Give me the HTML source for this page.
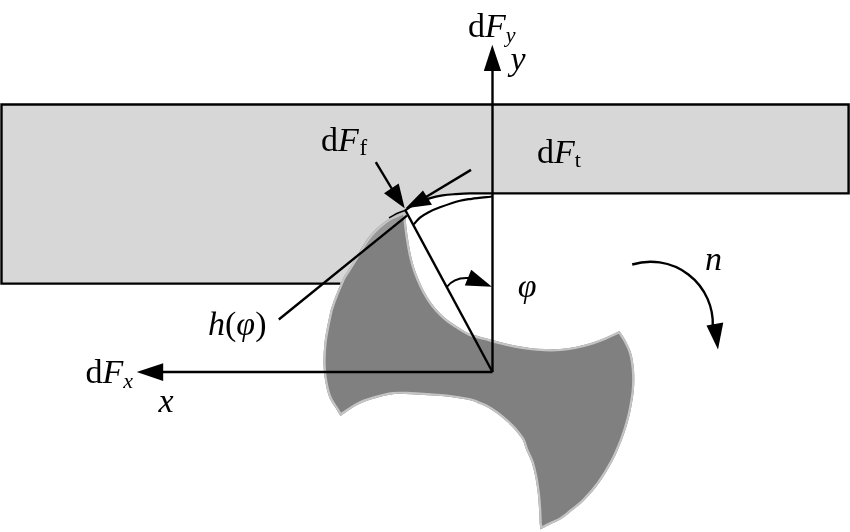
<!DOCTYPE html>
<html><head><meta charset="utf-8"><style>
html,body{margin:0;padding:0;background:#fff;width:850px;height:532px;overflow:hidden}
svg{display:block;will-change:transform}
text{font-family:"Liberation Serif",serif;fill:#000}
.i{font-style:italic}
</style></head><body>
<svg width="850" height="532" viewBox="0 0 850 532">
<rect x="0" y="0" width="850" height="532" fill="#fff"/>
<path d="M1.5 104.5 L848.6 104.5 L848.6 193.4 L492.5 193.4  C488.8 193.4 476.2 193.2 470.0 193.3 C463.8 193.4 459.6 193.8 455.0 194.2 C450.4 194.5 446.8 194.7 442.5 195.4 C438.2 196.1 433.8 197.1 429.5 198.4 C425.2 199.7 421.1 201.0 417.0 203.0 C412.9 205.0 407.0 209.2 405.0 210.5 C404.2 211.4 403.0 212.3 400.5 213.5 C398.0 214.7 393.5 216.1 390.0 218.2 C386.5 220.3 382.8 223.2 379.5 226.0 C376.2 228.8 372.9 232.2 370.3 235.3 C367.7 238.4 365.7 241.4 363.7 244.5 C361.7 247.6 359.9 251.1 358.4 253.7 C356.9 256.3 356.1 257.4 354.5 260.0 C352.9 262.6 350.8 266.0 348.9 269.0 C347.0 272.0 344.6 275.6 343.2 278.0 C341.8 280.4 340.9 282.7 340.4 283.6 L1.5 283.6 Z" fill="#d7d7d7"/>
<path d="M340.4 283.6 L1.5 283.6 L1.5 104.5 L848.6 104.5 L848.6 193.4 L492.5 193.4" fill="none" stroke="#000" stroke-width="2.4" stroke-linejoin="miter"/>
<clipPath id="tc"><path d="M405.0 211.0 C405.1 211.5 405.1 211.5 405.3 214.1 C405.5 216.7 405.9 222.0 406.4 226.5 C406.9 231.0 407.5 235.8 408.4 241.0 C409.2 246.2 410.3 252.3 411.5 257.5 C412.7 262.7 414.0 267.2 415.7 272.0 C417.4 276.8 419.3 281.4 421.5 286.0 C423.7 290.6 426.3 295.4 429.0 299.5 C431.7 303.6 434.5 307.2 437.5 310.5 C440.5 313.8 443.6 316.8 447.0 319.5 C450.4 322.2 454.2 324.6 458.0 327.0 C461.8 329.4 465.0 331.8 469.5 333.6 C474.0 335.4 479.9 336.6 485.0 338.0 C490.1 339.4 495.0 340.9 500.0 342.1 C505.0 343.4 510.0 344.5 515.0 345.5 C520.0 346.5 525.0 347.3 530.0 347.9 C535.0 348.5 540.0 348.9 545.0 349.1 C550.0 349.3 555.0 349.3 560.0 348.9 C565.0 348.5 570.0 347.8 575.0 346.9 C580.0 345.9 585.0 344.7 590.0 343.2 C595.0 341.7 600.1 339.7 605.0 337.7 C609.9 335.7 617.2 332.1 619.6 331.0 C620.6 332.6 623.7 336.9 625.5 340.3 C627.3 343.7 629.3 347.6 630.6 351.3 C631.9 355.0 632.5 358.2 633.1 362.3 C633.7 366.4 634.2 371.0 634.3 375.8 C634.4 380.6 634.3 386.0 633.8 391.0 C633.3 396.0 632.4 401.2 631.5 406.0 C630.6 410.8 630.0 414.1 628.5 419.6 C627.0 425.1 624.9 432.2 622.3 439.1 C619.6 446.0 616.5 453.8 612.6 461.1 C608.7 468.4 603.8 476.6 599.1 483.1 C594.4 489.6 589.3 495.3 584.4 500.2 C579.5 505.1 573.9 509.2 569.8 512.5 C565.7 515.8 563.3 517.8 560.0 519.8 C556.7 521.8 553.2 522.9 550.0 524.5 C546.8 526.1 542.1 528.7 540.5 529.5 C540.4 528.3 539.9 525.9 539.6 522.4 C539.4 518.9 539.3 513.5 539.0 508.6 C538.7 503.7 538.3 498.2 537.7 493.1 C537.1 488.0 536.4 482.8 535.4 477.7 C534.4 472.6 533.1 466.9 531.6 462.3 C530.1 457.7 527.7 453.7 526.2 450.0 C524.7 446.3 524.5 443.4 522.6 440.0 C520.7 436.6 517.3 432.6 514.7 429.5 C512.1 426.4 509.9 424.4 506.8 421.6 C503.7 418.9 499.8 415.5 496.3 413.0 C492.8 410.5 488.9 408.0 485.8 406.4 C482.7 404.8 480.5 404.2 477.9 403.2 C475.3 402.2 475.2 401.4 470.0 400.3 C464.8 399.2 453.5 397.4 446.5 396.6 C439.5 395.8 434.2 395.7 428.2 395.3 C422.2 394.9 416.5 394.4 410.6 394.2 C404.7 394.0 398.9 393.5 393.0 394.2 C387.1 394.9 381.2 396.4 375.3 398.2 C369.4 399.9 363.4 401.7 357.6 404.7 C351.8 407.7 343.3 414.1 340.4 416.0 C339.7 414.9 338.4 412.7 336.4 409.2 C334.4 405.7 330.5 401.7 328.4 395.0 C326.3 388.3 324.3 377.7 323.7 369.0 C323.1 360.3 323.5 351.7 324.5 342.6 C325.5 333.5 328.3 320.8 329.7 314.2 C331.1 307.6 331.9 306.3 333.0 302.9 C334.1 299.5 335.3 296.7 336.4 293.9 C337.5 291.1 338.7 288.6 339.8 286.0 C340.9 283.4 341.7 280.8 343.2 278.0 C344.7 275.2 347.0 272.0 348.9 269.0 C350.8 266.0 352.9 262.6 354.5 260.0 C356.1 257.4 356.9 256.3 358.4 253.7 C359.9 251.1 361.7 247.6 363.7 244.5 C365.7 241.4 367.7 238.4 370.3 235.3 C372.9 232.2 376.2 228.8 379.5 226.0 C382.8 223.2 386.5 220.3 390.0 218.2 C393.5 216.1 398.0 214.7 400.5 213.5 C403.0 212.3 404.2 211.4 405.0 211.0 Z"/></clipPath>
<path d="M405.0 211.0 C405.1 211.5 405.1 211.5 405.3 214.1 C405.5 216.7 405.9 222.0 406.4 226.5 C406.9 231.0 407.5 235.8 408.4 241.0 C409.2 246.2 410.3 252.3 411.5 257.5 C412.7 262.7 414.0 267.2 415.7 272.0 C417.4 276.8 419.3 281.4 421.5 286.0 C423.7 290.6 426.3 295.4 429.0 299.5 C431.7 303.6 434.5 307.2 437.5 310.5 C440.5 313.8 443.6 316.8 447.0 319.5 C450.4 322.2 454.2 324.6 458.0 327.0 C461.8 329.4 465.0 331.8 469.5 333.6 C474.0 335.4 479.9 336.6 485.0 338.0 C490.1 339.4 495.0 340.9 500.0 342.1 C505.0 343.4 510.0 344.5 515.0 345.5 C520.0 346.5 525.0 347.3 530.0 347.9 C535.0 348.5 540.0 348.9 545.0 349.1 C550.0 349.3 555.0 349.3 560.0 348.9 C565.0 348.5 570.0 347.8 575.0 346.9 C580.0 345.9 585.0 344.7 590.0 343.2 C595.0 341.7 600.1 339.7 605.0 337.7 C609.9 335.7 617.2 332.1 619.6 331.0 C620.6 332.6 623.7 336.9 625.5 340.3 C627.3 343.7 629.3 347.6 630.6 351.3 C631.9 355.0 632.5 358.2 633.1 362.3 C633.7 366.4 634.2 371.0 634.3 375.8 C634.4 380.6 634.3 386.0 633.8 391.0 C633.3 396.0 632.4 401.2 631.5 406.0 C630.6 410.8 630.0 414.1 628.5 419.6 C627.0 425.1 624.9 432.2 622.3 439.1 C619.6 446.0 616.5 453.8 612.6 461.1 C608.7 468.4 603.8 476.6 599.1 483.1 C594.4 489.6 589.3 495.3 584.4 500.2 C579.5 505.1 573.9 509.2 569.8 512.5 C565.7 515.8 563.3 517.8 560.0 519.8 C556.7 521.8 553.2 522.9 550.0 524.5 C546.8 526.1 542.1 528.7 540.5 529.5 C540.4 528.3 539.9 525.9 539.6 522.4 C539.4 518.9 539.3 513.5 539.0 508.6 C538.7 503.7 538.3 498.2 537.7 493.1 C537.1 488.0 536.4 482.8 535.4 477.7 C534.4 472.6 533.1 466.9 531.6 462.3 C530.1 457.7 527.7 453.7 526.2 450.0 C524.7 446.3 524.5 443.4 522.6 440.0 C520.7 436.6 517.3 432.6 514.7 429.5 C512.1 426.4 509.9 424.4 506.8 421.6 C503.7 418.9 499.8 415.5 496.3 413.0 C492.8 410.5 488.9 408.0 485.8 406.4 C482.7 404.8 480.5 404.2 477.9 403.2 C475.3 402.2 475.2 401.4 470.0 400.3 C464.8 399.2 453.5 397.4 446.5 396.6 C439.5 395.8 434.2 395.7 428.2 395.3 C422.2 394.9 416.5 394.4 410.6 394.2 C404.7 394.0 398.9 393.5 393.0 394.2 C387.1 394.9 381.2 396.4 375.3 398.2 C369.4 399.9 363.4 401.7 357.6 404.7 C351.8 407.7 343.3 414.1 340.4 416.0 C339.7 414.9 338.4 412.7 336.4 409.2 C334.4 405.7 330.5 401.7 328.4 395.0 C326.3 388.3 324.3 377.7 323.7 369.0 C323.1 360.3 323.5 351.7 324.5 342.6 C325.5 333.5 328.3 320.8 329.7 314.2 C331.1 307.6 331.9 306.3 333.0 302.9 C334.1 299.5 335.3 296.7 336.4 293.9 C337.5 291.1 338.7 288.6 339.8 286.0 C340.9 283.4 341.7 280.8 343.2 278.0 C344.7 275.2 347.0 272.0 348.9 269.0 C350.8 266.0 352.9 262.6 354.5 260.0 C356.1 257.4 356.9 256.3 358.4 253.7 C359.9 251.1 361.7 247.6 363.7 244.5 C365.7 241.4 367.7 238.4 370.3 235.3 C372.9 232.2 376.2 228.8 379.5 226.0 C382.8 223.2 386.5 220.3 390.0 218.2 C393.5 216.1 398.0 214.7 400.5 213.5 C403.0 212.3 404.2 211.4 405.0 211.0 Z" fill="#808080"/>
<polygon points="278.8,319.5 407,215.6 380,180 250,250" fill="#969696" clip-path="url(#tc)"/>
<path d="M405.0 211.0 C405.1 211.5 405.1 211.5 405.3 214.1 C405.5 216.7 405.9 222.0 406.4 226.5 C406.9 231.0 407.5 235.8 408.4 241.0 C409.2 246.2 410.3 252.3 411.5 257.5 C412.7 262.7 414.0 267.2 415.7 272.0 C417.4 276.8 419.3 281.4 421.5 286.0 C423.7 290.6 426.3 295.4 429.0 299.5 C431.7 303.6 434.5 307.2 437.5 310.5 C440.5 313.8 443.6 316.8 447.0 319.5 C450.4 322.2 454.2 324.6 458.0 327.0 C461.8 329.4 465.0 331.8 469.5 333.6 C474.0 335.4 479.9 336.6 485.0 338.0 C490.1 339.4 495.0 340.9 500.0 342.1 C505.0 343.4 510.0 344.5 515.0 345.5 C520.0 346.5 525.0 347.3 530.0 347.9 C535.0 348.5 540.0 348.9 545.0 349.1 C550.0 349.3 555.0 349.3 560.0 348.9 C565.0 348.5 570.0 347.8 575.0 346.9 C580.0 345.9 585.0 344.7 590.0 343.2 C595.0 341.7 600.1 339.7 605.0 337.7 C609.9 335.7 617.2 332.1 619.6 331.0 C620.6 332.6 623.7 336.9 625.5 340.3 C627.3 343.7 629.3 347.6 630.6 351.3 C631.9 355.0 632.5 358.2 633.1 362.3 C633.7 366.4 634.2 371.0 634.3 375.8 C634.4 380.6 634.3 386.0 633.8 391.0 C633.3 396.0 632.4 401.2 631.5 406.0 C630.6 410.8 630.0 414.1 628.5 419.6 C627.0 425.1 624.9 432.2 622.3 439.1 C619.6 446.0 616.5 453.8 612.6 461.1 C608.7 468.4 603.8 476.6 599.1 483.1 C594.4 489.6 589.3 495.3 584.4 500.2 C579.5 505.1 573.9 509.2 569.8 512.5 C565.7 515.8 563.3 517.8 560.0 519.8 C556.7 521.8 553.2 522.9 550.0 524.5 C546.8 526.1 542.1 528.7 540.5 529.5 C540.4 528.3 539.9 525.9 539.6 522.4 C539.4 518.9 539.3 513.5 539.0 508.6 C538.7 503.7 538.3 498.2 537.7 493.1 C537.1 488.0 536.4 482.8 535.4 477.7 C534.4 472.6 533.1 466.9 531.6 462.3 C530.1 457.7 527.7 453.7 526.2 450.0 C524.7 446.3 524.5 443.4 522.6 440.0 C520.7 436.6 517.3 432.6 514.7 429.5 C512.1 426.4 509.9 424.4 506.8 421.6 C503.7 418.9 499.8 415.5 496.3 413.0 C492.8 410.5 488.9 408.0 485.8 406.4 C482.7 404.8 480.5 404.2 477.9 403.2 C475.3 402.2 475.2 401.4 470.0 400.3 C464.8 399.2 453.5 397.4 446.5 396.6 C439.5 395.8 434.2 395.7 428.2 395.3 C422.2 394.9 416.5 394.4 410.6 394.2 C404.7 394.0 398.9 393.5 393.0 394.2 C387.1 394.9 381.2 396.4 375.3 398.2 C369.4 399.9 363.4 401.7 357.6 404.7 C351.8 407.7 343.3 414.1 340.4 416.0 C339.7 414.9 338.4 412.7 336.4 409.2 C334.4 405.7 330.5 401.7 328.4 395.0 C326.3 388.3 324.3 377.7 323.7 369.0 C323.1 360.3 323.5 351.7 324.5 342.6 C325.5 333.5 328.3 320.8 329.7 314.2 C331.1 307.6 331.9 306.3 333.0 302.9 C334.1 299.5 335.3 296.7 336.4 293.9 C337.5 291.1 338.7 288.6 339.8 286.0 C340.9 283.4 341.7 280.8 343.2 278.0 C344.7 275.2 347.0 272.0 348.9 269.0 C350.8 266.0 352.9 262.6 354.5 260.0 C356.1 257.4 356.9 256.3 358.4 253.7 C359.9 251.1 361.7 247.6 363.7 244.5 C365.7 241.4 367.7 238.4 370.3 235.3 C372.9 232.2 376.2 228.8 379.5 226.0 C382.8 223.2 386.5 220.3 390.0 218.2 C393.5 216.1 398.0 214.7 400.5 213.5 C403.0 212.3 404.2 211.4 405.0 211.0 Z" fill="none" stroke="#c4c4c4" stroke-width="4.4" clip-path="url(#tc)"/>
<path d="M492.5 193.4 C488.8 193.4 476.2 193.2 470.0 193.3 C463.8 193.4 459.6 193.8 455.0 194.2 C450.4 194.5 446.8 194.7 442.5 195.4 C438.2 196.1 433.8 197.1 429.5 198.4 C425.2 199.7 421.1 201.0 417.0 203.0 C412.9 205.0 407.0 209.2 405.0 210.5" fill="none" stroke="#000" stroke-width="2.2"/>
<path d="M405.0 210.5 C403.8 210.9 400.7 211.8 398.0 213.0 C395.3 214.2 390.5 217.2 389.0 218.0" fill="none" stroke="#000" stroke-width="1.4"/>
<path d="M413.8 224.3 C414.8 223.2 417.6 219.6 420.0 217.6 C422.4 215.6 424.9 214.1 428.2 212.4 C431.5 210.7 434.7 209.2 440.0 207.3 C445.3 205.4 454.7 202.2 460.0 200.8 C465.3 199.4 466.4 199.5 471.8 198.8 C477.2 198.1 489.1 196.9 492.5 196.5" fill="none" stroke="#000" stroke-width="2.2"/>
<!-- axes -->
<line x1="492.5" y1="372" x2="492.5" y2="68" stroke="#000" stroke-width="2.4"/>
<polygon points="492.3,44.7 483.8,71 501.1,71" fill="#000"/>
<line x1="492.5" y1="372" x2="160" y2="372" stroke="#000" stroke-width="2.4"/>
<polygon points="136.7,372.1 163.2,363.3 163.2,381" fill="#000"/>
<!-- radial line -->
<line x1="405.5" y1="210.5" x2="492.5" y2="372" stroke="#000" stroke-width="2.4"/>
<!-- h line -->
<line x1="278.8" y1="319.5" x2="407" y2="215.6" stroke="#000" stroke-width="2.4"/>
<!-- phi arc -->
<path d="M446.8 287 Q454 277 469 278" fill="none" stroke="#000" stroke-width="2"/>
<polygon points="491.9,286.7 464.8,285.6 471.2,269.8" fill="#000"/>
<!-- dFf arrow -->
<line x1="375.8" y1="162.1" x2="392" y2="189" stroke="#000" stroke-width="2.4"/>
<polygon points="404.7,208.3 384,193.3 398.7,183.5" fill="#000"/>
<!-- dFt arrow -->
<line x1="471" y1="169.9" x2="426" y2="197" stroke="#000" stroke-width="2.4"/>
<polygon points="405.6,208.3 423,190.5 432,204.8" fill="#000"/>
<!-- n arrow -->
<path d="M632.2 264.5 A62.2 62.2 0 0 1 712.8 326" fill="none" stroke="#000" stroke-width="2.4"/>
<polygon points="718,349.5 706.5,325.5 723.3,322.4" fill="#000"/>
<!-- labels -->
<text x="468" y="37" font-size="34">d<tspan class="i">F</tspan><tspan class="i" font-size="22" dy="5">y</tspan></text>
<text x="510.5" y="70" font-size="34" class="i">y</text>
<text x="321" y="151" font-size="34">d<tspan class="i">F</tspan><tspan font-size="23" dy="4" dx="0.8">f</tspan></text>
<text x="537" y="162.5" font-size="34">d<tspan class="i">F</tspan><tspan font-size="22" dy="4">t</tspan></text>
<text x="85.5" y="382.8" font-size="34">d<tspan class="i">F</tspan><tspan class="i" font-size="22" dy="5.5">x</tspan></text>
<text x="158.5" y="412" font-size="34" class="i">x</text>
<text x="208" y="335" font-size="34"><tspan class="i">h</tspan>(<tspan class="i">φ</tspan>)</text>
<text x="517.7" y="297" font-size="34" class="i">φ</text>
<text x="705" y="270" font-size="34" class="i">n</text>
</svg>
</body></html>
